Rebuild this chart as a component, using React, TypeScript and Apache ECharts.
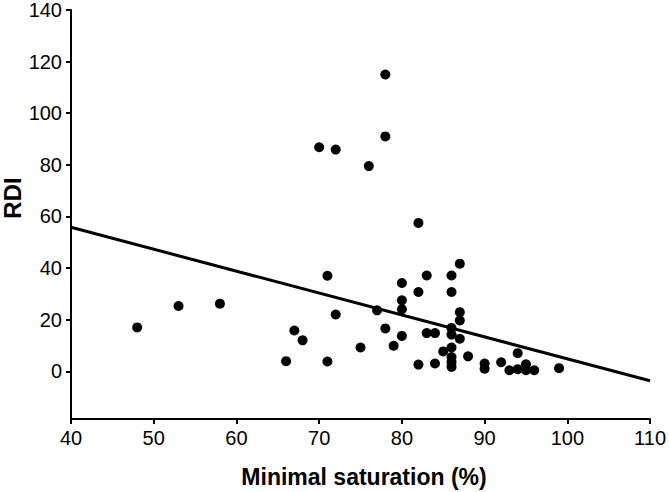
import React, { useEffect, useRef } from "react";
import * as echarts from "echarts";

const satX = [48, 53, 58, 66, 67, 68, 70, 71, 71, 72, 72, 75, 76, 77, 78, 78, 78, 79, 80, 80, 80, 80, 82, 82, 82, 83, 83, 84, 84, 85, 86, 86, 86, 86, 86, 86, 86, 86, 87, 87, 87, 87, 88, 90, 90, 92, 93, 94, 94, 95, 95, 96, 99];
const rdiY = [17, 25.3, 26.2, 3.9, 15.8, 12, 86.8, 37, 3.8, 85.9, 22, 9.2, 79.5, 23.6, 115, 91, 16.6, 9.9, 34.2, 27.5, 24, 13.7, 57.5, 30.7, 2.6, 37.1, 14.8, 14.8, 3, 7.7, 37.1, 30.7, 16.8, 14.2, 9.2, 5.5, 3.6, 1.7, 41.7, 22.9, 19.7, 12.6, 5.8, 3, 1, 3.5, 0.4, 7, 0.8, 2.7, 0.4, 0.4, 1.2];
const fitX = [40, 110];
const fitY = [55.8, -3.7];
const yTicks = [0, 20, 40, 60, 80, 100, 120, 140];
const xTitle = "Minimal saturation (%)";
const yTitle = "RDI";

const FONT = "'Liberation Sans', Arial, sans-serif";
const NARROW = "'Liberation Sans Narrow', 'Arial Narrow', 'Liberation Sans', Arial, sans-serif";

export default function App() {
  const ref = useRef<HTMLDivElement>(null);
  useEffect(() => {
    if (!ref.current) return;
    const chart = echarts.init(ref.current, null, { renderer: "svg" });
    chart.setOption({
      animation: false,
      backgroundColor: "#ffffff",
      grid: { left: 71, right: 13, top: 9, bottom: 73, containLabel: false },
      xAxis: {
        type: "value",
        min: 40,
        max: 110,
        interval: 10,
        axisLine: { show: true, onZero: false, lineStyle: { color: "#000", width: 2 } },
        axisTick: { show: true, length: 5, lineStyle: { color: "#000", width: 2 } },
        axisLabel: { color: "#000", fontSize: 20, fontFamily: NARROW, margin: 9 },
        splitLine: { show: false },
      },
      yAxis: {
        type: "value",
        min: -18.5,
        max: 140,
        axisLine: { show: true, onZero: false, lineStyle: { color: "#000", width: 2 } },
        axisTick: { show: true, length: 5, customValues: yTicks, lineStyle: { color: "#000", width: 2 } },
        axisLabel: { color: "#000", fontSize: 20, fontFamily: NARROW, margin: 9, customValues: yTicks },
        splitLine: { show: false },
      },
      graphic: [
        {
          type: "text",
          x: 364,
          y: 477,
          style: {
            text: xTitle,
            fontSize: 23,
            fontWeight: "bold",
            fontFamily: FONT,
            fill: "#000",
            align: "center",
            verticalAlign: "middle",
          },
        },
        {
          type: "text",
          x: 12,
          y: 198,
          rotation: Math.PI / 2,
          style: {
            text: yTitle,
            fontSize: 24,
            fontWeight: "bold",
            fontFamily: FONT,
            fill: "#000",
            align: "center",
            verticalAlign: "middle",
          },
        },
      ],
      series: [
        {
          type: "line",
          data: fitX.map((x, i) => [x, fitY[i]]),
          symbol: "none",
          lineStyle: { color: "#000", width: 3 },
          z: 2,
        },
        {
          type: "scatter",
          data: satX.map((x, i) => [x, rdiY[i]]),
          symbol: "circle",
          symbolSize: 10,
          itemStyle: { color: "#000", opacity: 1 },
          z: 3,
        },
      ],
    });
    return () => chart.dispose();
  }, []);
  return <div ref={ref} style={{ position: "fixed", left: 0, top: 0, width: 669, height: 492 }} />;
}
